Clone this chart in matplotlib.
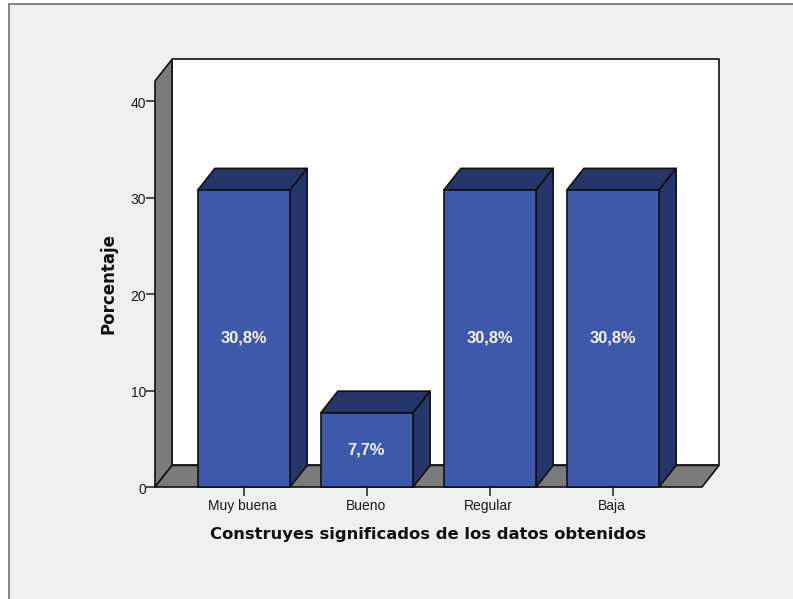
import matplotlib
matplotlib.use("Agg")
import matplotlib.pyplot as plt
from matplotlib.patches import Polygon, Rectangle
from matplotlib.transforms import ScaledTranslation

categories = ["Muy buena", "Bueno", "Regular", "Baja"]
values = [30.8, 7.7, 30.8, 30.8]
labels = ["30,8%", "7,7%", "30,8%", "30,8%"]
yticks = [0, 10, 20, 30, 40]

BG = "#efefef"; FRONT = "#3e59a9"; DARK = "#26366b"; WALL = "#7b7b7b"; EDGE = "#111111"; TEXT = "#1a1a1a"

W, H = 793, 599
BAR_W = 0.75
XMIN, XMAX = -0.7236, 3.7236
YMAX = 42.1
DX = 17 / 123   # depth offset in data units
DY = 21.6 / 9.65

plt.rcParams["font.family"] = ["Liberation Sans", "DejaVu Sans"]

fig = plt.figure(figsize=(W / 100, H / 100), dpi=100, facecolor="white")
# panel with its grey border on top and left only (runs off the other two sides)
fig.add_artist(Rectangle((9 / W, -0.1), 1, 1.1 - 4 / H, transform=fig.transFigure,
                         facecolor=BG, edgecolor="#707070", linewidth=1.2, zorder=-1))

ax = fig.add_axes([155 / W, (H - 487) / H, 547 / W, 406 / H])
ax.set_xlim(XMIN, XMAX)
ax.set_ylim(0, YMAX)
ax.patch.set_visible(False)
for s in ax.spines.values():
    s.set_visible(False)


def poly(pts, color, z):
    ax.add_patch(Polygon(pts, closed=True, facecolor=color, edgecolor=EDGE,
                         linewidth=1.2, clip_on=False, zorder=z, joinstyle="round"))


# back wall, side wall, floor
poly([(XMIN + DX, DY), (XMAX + DX, DY), (XMAX + DX, YMAX + DY), (XMIN + DX, YMAX + DY)], "white", 1)
poly([(XMIN, 0), (XMIN + DX, DY), (XMIN + DX, YMAX + DY), (XMIN, YMAX)], WALL, 2)
poly([(XMIN, 0), (XMAX, 0), (XMAX + DX, DY), (XMIN + DX, DY)], WALL, 2)

for i, (v, lab) in enumerate(zip(values, labels)):
    l, r = i - BAR_W / 2, i + BAR_W / 2
    poly([(l, v), (r, v), (r + DX, v + DY), (l + DX, v + DY)], DARK, 3)
    poly([(r, 0), (r + DX, DY), (r + DX, v + DY), (r, v)], DARK, 3)
    poly([(l, 0), (r, 0), (r, v), (l, v)], FRONT, 4)
    ax.text(i - 0.005, v / 2, lab, color="#f4f4f4", fontsize=11.8, fontweight="bold",
            ha="center", va="center", zorder=5)

ax.set_xticks(range(len(categories)))
ax.set_xticklabels(categories, fontsize=10, color=TEXT)
ax.set_yticks(yticks)
ax.set_yticklabels([str(t) for t in yticks], fontsize=10, color=TEXT)
ax.tick_params(axis="x", length=6.5, width=1.1, color="#222222", pad=2.3)
ax.tick_params(axis="y", length=6.5, width=1.1, color="#222222", pad=0)

# labels in the original sit a pixel or so off their ticks
for lb in ax.get_xticklabels():
    lb.set_transform(lb.get_transform() + ScaledTranslation(-1.5 / 100, 0, fig.dpi_scale_trans))
for lb in ax.get_yticklabels():
    lb.set_transform(lb.get_transform() + ScaledTranslation(0, -1 / 100, fig.dpi_scale_trans))

fig.text(428 / W, 1 - 535 / H, "Construyes significados de los datos obtenidos",
         fontsize=11.75, fontweight="bold", family="DejaVu Sans", color="#111111", ha="center", va="center")
fig.text(109 / W, 1 - 283.5 / H, "Porcentaje", fontsize=12, fontweight="bold", family="DejaVu Sans",
         color="#111111", rotation=90, ha="center", va="center")

fig.savefig("out.png", dpi=100, facecolor="white")
